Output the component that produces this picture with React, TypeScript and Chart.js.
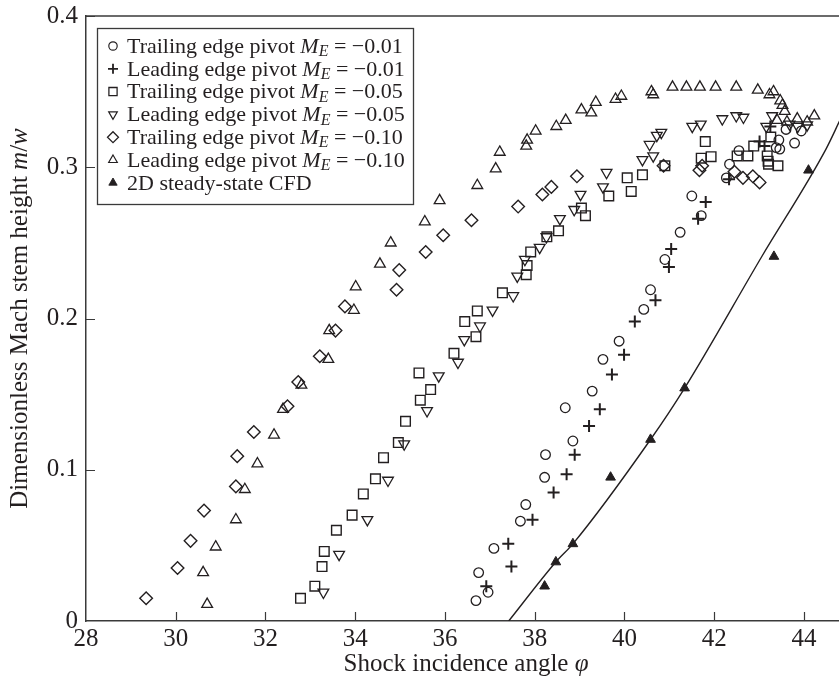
import React, { useEffect, useRef } from 'react';
import { Chart, registerables } from 'chart.js';
import { drawPoint } from 'chart.js/helpers';

Chart.register(...registerables);

const FONT = '"Liberation Serif", "Times New Roman", serif';
const INK = '#231f20';

// ---- axes ----
const xMin = 28;
const xMax = 44.78;
const xTicks = [28, 30, 32, 34, 36, 38, 40, 42, 44];
const yTicks = [0, 0.1, 0.2, 0.3, 0.4];
const yTickLabels = ['0', '0.1', '0.2', '0.3', '0.4'];
const xTitle = 'Shock incidence angle ';
const xTitleSym = 'φ';
const yTitle = 'Dimensionless Mach stem height ';

// ---- data: [phi, m/w] ----
type P = [number, number];

const trailingM001: P[] = [
  [36.69, 0.0135], [36.96, 0.019], [36.75, 0.032], [37.09, 0.048], [37.68, 0.066], [37.8, 0.077],
  [38.22, 0.095], [38.24, 0.11], [38.85, 0.119], [38.68, 0.141], [39.28, 0.152], [39.52, 0.173],
  [39.88, 0.185], [40.43, 0.206], [40.58, 0.219], [40.9, 0.239], [41.24, 0.257], [41.71, 0.268],
  [41.5, 0.281], [42.27, 0.293], [42.34, 0.302], [42.55, 0.311], [43.38, 0.313], [43.46, 0.312],
  [43.44, 0.318], [43.6, 0.325], [43.79, 0.316], [43.94, 0.324],
];

const leadingM001: P[] = [
  [36.92, 0.023], [37.48, 0.036], [37.41, 0.051], [37.95, 0.067], [38.42, 0.085], [38.71, 0.097],
  [38.89, 0.11], [39.21, 0.129], [39.45, 0.14], [39.72, 0.163], [39.99, 0.176], [40.23, 0.198],
  [40.69, 0.212], [40.99, 0.234], [41.04, 0.246], [41.64, 0.266], [41.81, 0.277], [42.33, 0.292],
  [43.01, 0.317], [43.12, 0.314], [43.25, 0.327],
];

const trailingM005: P[] = [
  [32.78, 0.015], [33.1, 0.023], [33.26, 0.036], [33.31, 0.046], [33.58, 0.06], [33.93, 0.07],
  [34.18, 0.084], [34.45, 0.094], [34.63, 0.108], [34.96, 0.118], [35.12, 0.132], [35.45, 0.146],
  [35.68, 0.153], [35.42, 0.164], [36.2, 0.177], [36.69, 0.188], [36.44, 0.198], [36.72, 0.205],
  [37.28, 0.217], [37.81, 0.229], [37.83, 0.235], [37.91, 0.244], [38.27, 0.254], [38.53, 0.258],
  [39.13, 0.268], [39.04, 0.273], [39.65, 0.281], [40.15, 0.284], [40.06, 0.293], [40.4, 0.295],
  [40.9, 0.301], [41.71, 0.306], [41.93, 0.307], [41.8, 0.317], [42.51, 0.3075], [42.75, 0.3075],
  [42.88, 0.314], [43.26, 0.32], [43.18, 0.3075], [43.2, 0.304], [43.21, 0.302], [43.42, 0.301],
];

const leadingM005: P[] = [
  [33.29, 0.019], [33.64, 0.044], [34.27, 0.067], [34.73, 0.093], [35.09, 0.117], [35.6, 0.139],
  [35.86, 0.162], [36.29, 0.171], [36.43, 0.186], [36.78, 0.195], [37.06, 0.2055], [37.52, 0.215],
  [37.61, 0.228], [37.78, 0.239], [38.11, 0.247], [38.26, 0.254], [38.56, 0.266], [38.88, 0.272],
  [39.02, 0.282], [39.52, 0.287], [39.6, 0.2965], [40.4, 0.305], [40.64, 0.3075], [40.56, 0.315],
  [40.72, 0.321], [40.82, 0.323], [41.51, 0.327], [41.7, 0.3285], [42.18, 0.332], [42.49, 0.334],
  [42.65, 0.333], [43.29, 0.334], [43.16, 0.327], [43.68, 0.3285], [43.86, 0.327], [44.07, 0.328],
];

const trailingM010: P[] = [
  [29.34, 0.015], [30.04, 0.035], [30.33, 0.053], [30.63, 0.073], [31.34, 0.089], [31.37, 0.109],
  [31.74, 0.125], [32.49, 0.142], [32.73, 0.158], [33.21, 0.175], [33.56, 0.192], [33.77, 0.208],
  [34.92, 0.219], [34.98, 0.232], [35.57, 0.244], [35.96, 0.255], [36.59, 0.265], [37.63, 0.274],
  [38.17, 0.282], [38.37, 0.287], [38.94, 0.294], [40.87, 0.301], [41.67, 0.298], [41.73, 0.301],
  [42.45, 0.297], [42.64, 0.293], [42.86, 0.294], [43.01, 0.29],
];

const leadingM010: P[] = [
  [30.7, 0.011], [30.61, 0.032], [30.89, 0.049], [31.34, 0.067], [31.54, 0.087], [31.82, 0.104],
  [32.19, 0.123], [32.39, 0.14], [32.8, 0.156], [33.4, 0.173], [33.42, 0.192], [33.97, 0.2055],
  [34.01, 0.221], [34.55, 0.236], [34.79, 0.25], [35.55, 0.264], [35.88, 0.278], [36.72, 0.288],
  [37.13, 0.299], [37.22, 0.31], [37.81, 0.314], [37.83, 0.318], [38.02, 0.324], [38.48, 0.327],
  [38.69, 0.331], [39.04, 0.338], [39.26, 0.336], [39.36, 0.343], [39.8, 0.345], [39.93, 0.347],
  [40.6, 0.35], [40.64, 0.348], [41.07, 0.353], [41.38, 0.353], [41.68, 0.353], [42.03, 0.353],
  [42.49, 0.353], [42.97, 0.351], [43.23, 0.348], [43.32, 0.35], [43.47, 0.344], [43.52, 0.341],
  [43.57, 0.337], [43.4, 0.331], [43.62, 0.33], [43.85, 0.332], [44.07, 0.33], [44.23, 0.334],
];

const cfdPoints: P[] = [
  [38.22, 0.023], [38.47, 0.039], [38.85, 0.051], [39.69, 0.095], [40.58, 0.12], [41.34, 0.154],
  [43.33, 0.241], [44.1, 0.298],
];

const cfdCurve: P[] = [
  [37.42, 0], [38.47, 0.039], [38.85, 0.051], [40.58, 0.12], [41.34, 0.154], [43.06, 0.241],
  [44.49, 0.312], [44.8, 0.331],
];

const legendNames = [
  'Trailing edge pivot ',
  'Leading edge pivot ',
  'Trailing edge pivot ',
  'Leading edge pivot ',
  'Trailing edge pivot ',
  'Leading edge pivot ',
  '2D steady-state CFD',
];
const legendValues = ['−0.01', '−0.01', '−0.05', '−0.05', '−0.10', '−0.10', ''];

type Sty = { style: string; r: number; rot: number; bw: number; fill: boolean; lr: number };
const styles: Sty[] = [
  { style: 'circle', r: 4.8, rot: 0, bw: 1.3, fill: false, lr: 4.2 },
  { style: 'cross', r: 6, rot: 0, bw: 2, fill: false, lr: 5 },
  { style: 'rect', r: 6.8, rot: 0, bw: 1.4, fill: false, lr: 5.8 },
  { style: 'triangle', r: 6.2, rot: 180, bw: 1.3, fill: false, lr: 5 },
  { style: 'rectRot', r: 6.3, rot: 0, bw: 1.4, fill: false, lr: 5.5 },
  { style: 'triangle', r: 6.2, rot: 0, bw: 1.3, fill: false, lr: 5 },
  { style: 'triangle', r: 5.6, rot: 0, bw: 1, fill: true, lr: 4.8 },
];

const seriesData: P[][] = [trailingM001, leadingM001, trailingM005, leadingM005, trailingM010, leadingM010, cfdPoints];

type Run = { t: string; f: string; dy?: number };
function drawRuns(ctx: CanvasRenderingContext2D, runs: Run[], x: number, y: number, align: 'left' | 'center') {
  let total = 0;
  const widths = runs.map((r) => {
    ctx.font = r.f;
    const w = ctx.measureText(r.t).width;
    total += w;
    return w;
  });
  let cx = align === 'center' ? x - total / 2 : x;
  runs.forEach((r, i) => {
    ctx.font = r.f;
    ctx.fillText(r.t, cx, y + (r.dy || 0));
    cx += widths[i];
  });
}

const decor = {
  id: 'decor',
  afterDraw(chart: any) {
    const ctx: CanvasRenderingContext2D = chart.ctx;
    const { left, right, top, bottom } = chart.chartArea;
    const xs = chart.scales.x;
    const ys = chart.scales.y;
    ctx.save();
    ctx.strokeStyle = '#3a3a3a';
    ctx.lineWidth = 1.5;
    ctx.beginPath();
    ctx.moveTo(left, top);
    ctx.lineTo(right, top);
    ctx.stroke();
    ctx.lineWidth = 1.2;
    ctx.beginPath();
    xTicks.forEach((v) => {
      if (v === xMin) return;
      const px = Math.round(xs.getPixelForValue(v)) + 0.5;
      ctx.moveTo(px, bottom);
      ctx.lineTo(px, bottom - 9);
    });
    yTicks.forEach((v) => {
      if (v === 0) return;
      const py = Math.round(ys.getPixelForValue(v)) + 0.5;
      ctx.moveTo(left, py);
      ctx.lineTo(left + 9, py);
    });
    ctx.stroke();

    ctx.fillStyle = INK;
    ctx.textBaseline = 'alphabetic';
    drawRuns(
      ctx,
      [
        { t: xTitle, f: `25px ${FONT}` },
        { t: xTitleSym, f: `italic 25px ${FONT}` },
      ],
      466,
      671,
      'center'
    );
    ctx.save();
    ctx.translate(27, (top + bottom) / 2);
    ctx.rotate(-Math.PI / 2);
    drawRuns(
      ctx,
      [
        { t: yTitle, f: `25px ${FONT}` },
        { t: 'm', f: `italic 25px ${FONT}` },
        { t: '/', f: `25px ${FONT}` },
        { t: 'w', f: `italic 25px ${FONT}` },
      ],
      0,
      0,
      'center'
    );
    ctx.restore();

    const bx = 97, by = 28, bw = 316, bh = 176;
    ctx.fillStyle = '#ffffff';
    ctx.fillRect(bx, by, bw, bh);
    ctx.strokeStyle = '#3a3a3a';
    ctx.lineWidth = 1.3;
    ctx.strokeRect(bx + 0.5, by + 0.5, bw, bh);
    legendNames.forEach((name, i) => {
      const cy = 46 + i * 22.8;
      const s = styles[i];
      ctx.strokeStyle = INK;
      ctx.fillStyle = s.fill ? INK : 'rgba(0,0,0,0)';
      ctx.lineWidth = s.bw * 0.9;
      drawPoint(ctx, { pointStyle: s.style as any, radius: s.lr, rotation: s.rot, borderWidth: s.bw * 0.9 } as any, 113, cy);
      ctx.fillStyle = INK;
      ctx.textBaseline = 'middle';
      const runs: Run[] = [{ t: name, f: `22px ${FONT}` }];
      if (legendValues[i]) {
        runs.push({ t: 'M', f: `italic 22px ${FONT}` });
        runs.push({ t: 'E', f: `italic 16px ${FONT}`, dy: 5 });
        runs.push({ t: ' = ', f: `22px ${FONT}` });
        runs.push({ t: legendValues[i], f: `22px ${FONT}` });
      }
      drawRuns(ctx, runs, 127, cy + 1, 'left');
    });
    ctx.restore();
  },
};

export default function App() {
  const ref = useRef<HTMLCanvasElement>(null);
  useEffect(() => {
    if (!ref.current) return;
    const datasets: any[] = seriesData.map((d, i) => {
      const s = styles[i];
      return {
        type: 'scatter',
        label: legendNames[i] + legendValues[i],
        data: d.map(([x, y]) => ({ x, y })),
        pointStyle: s.style,
        pointRadius: s.r,
        pointRotation: s.rot,
        pointBorderWidth: s.bw,
        borderColor: INK,
        backgroundColor: s.fill ? INK : 'rgba(0,0,0,0)',
        pointBackgroundColor: s.fill ? INK : 'rgba(0,0,0,0)',
        pointBorderColor: INK,
        showLine: false,
      };
    });
    datasets.push({
      type: 'line',
      label: 'CFD curve',
      data: cfdCurve.map(([x, y]) => ({ x, y })),
      borderColor: INK,
      borderWidth: 1.4,
      pointRadius: 0,
      cubicInterpolationMode: 'monotone',
      fill: false,
    });
    const chart = new Chart(ref.current, {
      type: 'scatter',
      data: { datasets },
      options: {
        responsive: false,
        animation: false,
        devicePixelRatio: 1,
        layout: { autoPadding: false, padding: { top: 16, left: 0, right: 0, bottom: 0 } },
        plugins: { legend: { display: false }, tooltip: { enabled: false } },
        scales: {
          x: {
            type: 'linear',
            min: xMin,
            max: xMax,
            afterBuildTicks: (s: any) => {
              s.ticks = xTicks.map((v) => ({ value: v }));
            },
            afterFit: (s: any) => {
              s.height = 62;
              s.paddingLeft = 0;
              s.paddingRight = 0;
            },
            grid: { display: false, drawTicks: false },
            border: { display: true, color: '#3a3a3a', width: 1.5 },
            ticks: {
              color: INK,
              font: { family: FONT, size: 25 },
              padding: 3,
              maxRotation: 0,
              autoSkip: false,
              callback: (v: any) => String(v),
            },
          },
          y: {
            type: 'linear',
            min: 0,
            max: 0.4,
            afterBuildTicks: (s: any) => {
              s.ticks = yTicks.map((v) => ({ value: v }));
            },
            afterFit: (s: any) => {
              s.width = 86;
              s.paddingTop = 0;
              s.paddingBottom = 0;
            },
            grid: { display: false, drawTicks: false },
            border: { display: true, color: '#3a3a3a', width: 1.5 },
            ticks: {
              color: INK,
              font: { family: FONT, size: 25 },
              padding: 8,
              autoSkip: false,
              callback: (v: any) => {
                const idx = yTicks.findIndex((t) => Math.abs(t - v) < 1e-9);
                return idx >= 0 ? yTickLabels[idx] : '';
              },
            },
          },
        },
      },
      plugins: [decor],
    });
    return () => chart.destroy();
  }, []);
  return (
    <div style={{ position: 'absolute', left: 0, top: 0, width: 839, height: 683, background: '#fff' }}>
      <canvas ref={ref} width={839} height={683} style={{ display: 'block', width: 839, height: 683 }} />
    </div>
  );
}
